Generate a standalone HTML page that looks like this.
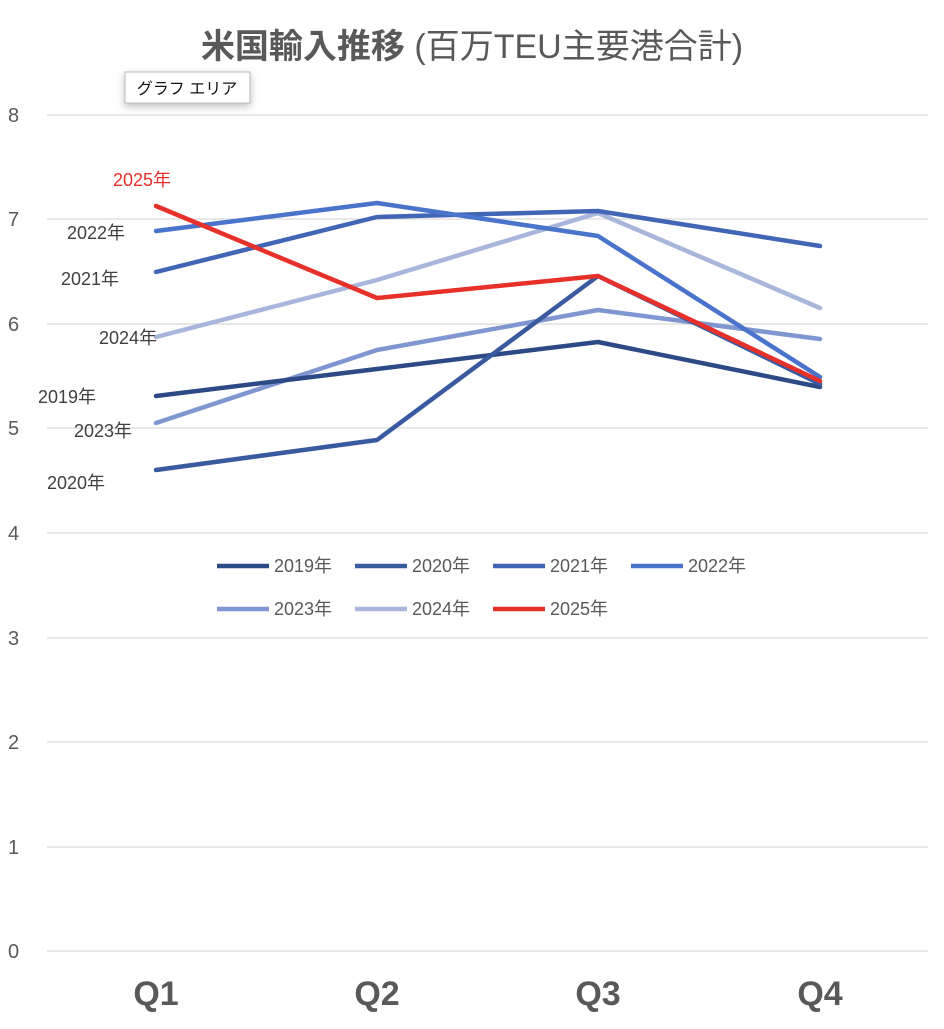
<!DOCTYPE html>
<html><head><meta charset="utf-8"><style>
html,body{margin:0;padding:0;background:#fff;}
svg text{font-family:"Liberation Sans","Noto Sans CJK JP",sans-serif;}
</style></head><body>
<svg width="944" height="1024" viewBox="0 0 944 1024" xmlns="http://www.w3.org/2000/svg">
<rect width="944" height="1024" fill="#fff"/>
<text x="472" y="58" text-anchor="middle" font-size="34" font-weight="bold" fill="#595959">米国輸入推移 <tspan font-weight="normal">(百万TEU主要港合計)</tspan></text>
<g stroke="#d9d9d9" stroke-width="1.2">
<line x1="47" x2="928" y1="115" y2="115"/><line x1="47" x2="928" y1="219" y2="219"/>
<line x1="47" x2="928" y1="324" y2="324"/><line x1="47" x2="928" y1="428" y2="428"/>
<line x1="47" x2="928" y1="533" y2="533"/><line x1="47" x2="928" y1="638" y2="638"/>
<line x1="47" x2="928" y1="742" y2="742"/><line x1="47" x2="928" y1="847" y2="847"/>
<line x1="47" x2="928" y1="951" y2="951"/>
</g>
<g font-size="20" fill="#595959">
<text x="8" y="122">8</text><text x="8" y="226">7</text><text x="8" y="331">6</text>
<text x="8" y="435">5</text><text x="8" y="540">4</text><text x="8" y="645">3</text>
<text x="8" y="749">2</text><text x="8" y="854">1</text><text x="8" y="958">0</text>
</g>
<g font-size="34" font-weight="bold" fill="#595959" text-anchor="middle">
<text x="156" y="1005">Q1</text><text x="377" y="1005">Q2</text><text x="598" y="1005">Q3</text><text x="820" y="1005">Q4</text>
</g>
<g fill="none" stroke-width="4.5" stroke-linejoin="round" stroke-linecap="round">
<polyline stroke="#a9b6dc" points="156,337 377,280 598,213 820,308"/>
<polyline stroke="#8096d0" points="156,423 377,350 598,310 820,339"/>
<polyline stroke="#2e4a86" points="156,396 377,369 598,342 820,387"/>
<polyline stroke="#3a5aa0" points="156,470 377,440 598,276 820,384"/>
<polyline stroke="#4266b5" points="156,272 377,217 598,211 820,246"/>
<polyline stroke="#4a73cc" points="156,231 377,203 598,236 820,377"/>
<polyline stroke="#e8302a" points="156,206 377,298 598,276 820,381"/>
</g>
<g font-size="18" fill="#404040">
<text x="67" y="239">2022年</text>
<text x="61" y="285">2021年</text>
<text x="99" y="344">2024年</text>
<text x="38" y="403">2019年</text>
<text x="74" y="437">2023年</text>
<text x="47" y="489">2020年</text>
<text x="113" y="186" fill="#e8302a">2025年</text>
</g>
<g font-size="18" fill="#595959" stroke-width="4.5">
<line x1="217" x2="269" y1="566" y2="566" stroke="#2e4a86"/><text x="274" y="572">2019年</text>
<line x1="355" x2="407" y1="566" y2="566" stroke="#3a5aa0"/><text x="412" y="572">2020年</text>
<line x1="493" x2="545" y1="566" y2="566" stroke="#4266b5"/><text x="550" y="572">2021年</text>
<line x1="631" x2="683" y1="566" y2="566" stroke="#4a73cc"/><text x="688" y="572">2022年</text>
<line x1="217" x2="269" y1="609" y2="609" stroke="#8096d0"/><text x="274" y="615">2023年</text>
<line x1="355" x2="407" y1="609" y2="609" stroke="#a9b6dc"/><text x="412" y="615">2024年</text>
<line x1="493" x2="545" y1="609" y2="609" stroke="#e8302a"/><text x="550" y="615">2025年</text>
</g>
<defs><filter id="sh" x="-20%" y="-50%" width="140%" height="220%"><feDropShadow dx="0" dy="3" stdDeviation="4" flood-opacity="0.25"/></filter></defs>
<rect x="125" y="72" width="125" height="31" fill="#fff" stroke="#bbb" filter="url(#sh)"/>
<text x="187" y="94" text-anchor="middle" font-size="16" fill="#111">グラフ エリア</text>
</svg>
</body></html>
